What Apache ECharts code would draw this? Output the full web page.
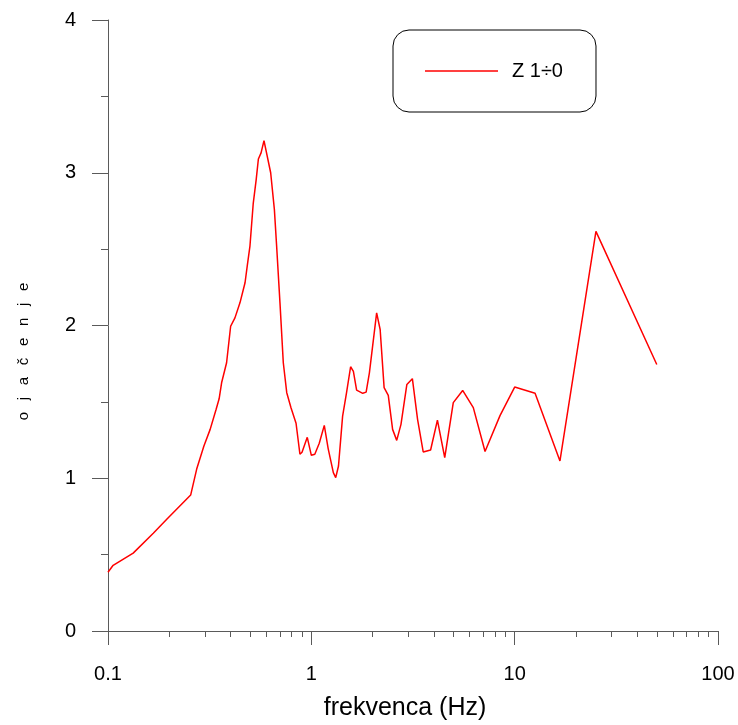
<!DOCTYPE html>
<html>
<head>
<meta charset="utf-8">
<script src="https://cdn.jsdelivr.net/npm/echarts@6/dist/echarts.min.js"></script>
<style>
  html, body { margin: 0; padding: 0; background: #fff; }
  #chart { width: 738px; height: 725px; }
</style>
</head>
<body>
<div id="chart"></div>
<script>
// Frequency (Hz)
const freq = [0.1, 0.106, 0.133, 0.167, 0.194, 0.255, 0.273, 0.296, 0.318, 0.34, 0.352, 0.362, 0.383,
  0.401, 0.421, 0.446, 0.472, 0.484, 0.499, 0.518, 0.535, 0.549, 0.566, 0.585, 0.596, 0.631, 0.658,
  0.675, 0.701, 0.728, 0.757, 0.795, 0.841, 0.879, 0.9, 0.955, 1.0, 1.04, 1.094, 1.158, 1.21, 1.283,
  1.318, 1.36, 1.425, 1.49, 1.56, 1.61, 1.67, 1.79, 1.86, 1.93, 2.095, 2.18, 2.28, 2.39, 2.51, 2.63,
  2.76, 2.95, 3.14, 3.33, 3.55, 3.86, 4.17, 4.53, 4.99, 5.55, 6.26, 7.15, 8.47, 10, 12.6, 16.7, 25.1, 50];
// Amplification
const amp = [0.385, 0.43, 0.51, 0.64, 0.73, 0.89, 1.06, 1.21, 1.32, 1.45, 1.52, 1.625, 1.756,
  1.995, 2.05, 2.15, 2.28, 2.39, 2.52, 2.80, 2.95, 3.09, 3.13, 3.21, 3.21, 3.0, 2.76,
  2.52, 2.15, 1.756, 1.56, 1.46, 1.36, 1.157, 1.17, 1.268, 1.15, 1.157, 1.229, 1.346, 1.194, 1.037,
  1.004, 1.08, 1.407, 1.56, 1.73, 1.70, 1.577, 1.556, 1.564, 1.69, 2.083, 1.974, 1.593, 1.542, 1.32, 1.248,
  1.353, 1.614, 1.652, 1.386, 1.172, 1.185, 1.381, 1.135, 1.495, 1.575, 1.462, 1.175, 1.41, 1.597, 1.556, 1.113, 2.616, 1.745];

const seriesName = 'Z 1÷0';
const xMajorTicks = [0.1, 1, 10, 100];
const xEdgeTicks = [0.1, 100];
const xMinorTicks = [0.2, 0.3, 0.4, 0.5, 0.6, 0.7, 0.8, 0.9, 2, 3, 4, 5, 6, 7, 8, 9, 20, 30, 40, 50, 60, 70, 80, 90];
const xTitle = 'frekvenca (Hz)';
const yTitle = 'o\u2002 j\u2002 a\u2002 č\u2002 e\u2002 n\u2002 j\u2002 e';

const FONT = '"Liberation Sans", Arial, sans-serif';
const AXIS_COLOR = '#5a5a5a';

const chart = echarts.init(document.getElementById('chart'), null, { renderer: 'canvas' });
chart.setOption({
  animation: false,
  backgroundColor: '#fff',
  textStyle: { fontFamily: FONT },
  grid: { left: 108, right: 20, top: 20, bottom: 94, containLabel: false, outerBoundsMode: 'none' },
  legend: {
    show: true,
    left: 393, top: 30,
    padding: [31, 33, 31, 32],
    borderColor: '#000', borderWidth: 1, borderRadius: 16,
    backgroundColor: '#fff',
    itemWidth: 73, itemHeight: 1.5,
    textStyle: { fontFamily: FONT, fontSize: 20, color: '#000', padding: [0, 0, 0, 9] },
    data: [{ name: seriesName, icon: 'rect' }]
  },
  xAxis: [{
    type: 'log', logBase: 10, min: 0.1, max: 100,
    name: xTitle, nameLocation: 'middle', nameGap: 65,
    nameTextStyle: { fontFamily: FONT, fontSize: 25, color: '#000', padding: [0, 16, 0, 0] },
    axisLine: { show: true, lineStyle: { color: AXIS_COLOR, width: 1 } },
    axisTick: { show: true, length: 14, customValues: xMajorTicks, lineStyle: { color: AXIS_COLOR, width: 1 } },
    axisLabel: { customValues: xMajorTicks, margin: 33, fontFamily: FONT, fontSize: 20, color: '#000',
      formatter: v => String(+v.toPrecision(3)) },
    minorTick: { show: false },
    splitLine: { show: false }
  }, {
    type: 'log', logBase: 10, min: 0.1, max: 100, gridIndex: 0, position: 'bottom',
    axisLine: { show: false },
    axisTick: { show: true, length: 6, customValues: xMinorTicks, lineStyle: { color: AXIS_COLOR, width: 1 } },
    axisLabel: { show: false },
    splitLine: { show: false }
  }],
  yAxis: {
    type: 'value', min: 0, max: 4, interval: 1,
    name: yTitle, nameLocation: 'middle', nameGap: 77,
    nameTextStyle: { fontFamily: FONT, fontSize: 15, color: '#000', padding: [0, 52, 0, 0] },
    axisLine: { show: true, lineStyle: { color: AXIS_COLOR, width: 1 } },
    axisTick: { show: true, length: 16, lineStyle: { color: AXIS_COLOR, width: 1 } },
    minorTick: { show: true, splitNumber: 2, length: 7, lineStyle: { color: AXIS_COLOR, width: 1 } },
    axisLabel: { margin: 32, fontFamily: FONT, fontSize: 20, color: '#000' },
    splitLine: { show: false },
    minorSplitLine: { show: false }
  },
  series: [{
    name: seriesName,
    type: 'line',
    xAxisIndex: 0,
    data: freq.map((f, i) => [f, amp[i]]),
    symbol: 'none',
    showSymbol: false,
    smooth: false,
    lineStyle: { color: '#ff0000', width: 1.5 },
    itemStyle: { color: '#ff0000' }
  }, {
    name: 'edgeTicks',
    type: 'custom',
    xAxisIndex: 0,
    clip: false,
    silent: true,
    data: xEdgeTicks.map(v => [v, 0]),
    renderItem: function (params, api) {
      const p = api.coord([api.value(0), api.value(1)]);
      const x = Math.round(p[0]) + 0.5;
      return {
        type: 'line',
        shape: { x1: x, y1: Math.round(p[1]), x2: x, y2: Math.round(p[1]) + 14 },
        style: { stroke: AXIS_COLOR, lineWidth: 1 }
      };
    }
  }]
});
</script>
</body>
</html>
